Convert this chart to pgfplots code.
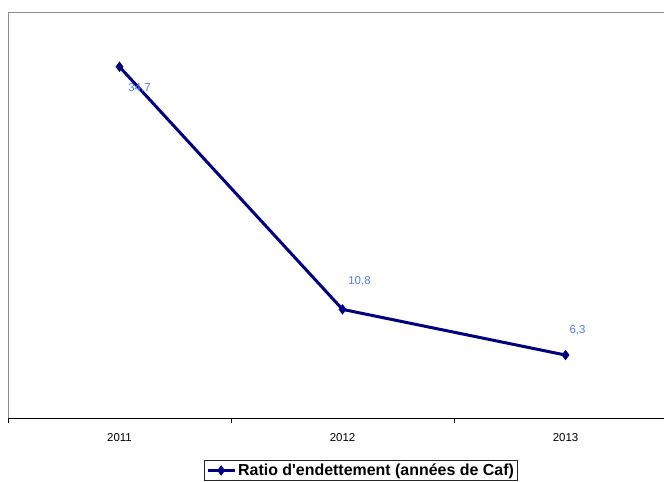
\documentclass[border=0pt]{standalone}
\usepackage{pgfplots}
\pgfplotsset{compat=1.18}
\usepackage{fontspec}
\setmainfont{Liberation Sans}
\newfontfamily\legfont{Liberation Sans}
\definecolor{navyline}{HTML}{000080}
\definecolor{lblblue}{HTML}{4D79FF}
\begin{document}
\begin{tikzpicture}[x=1bp,y=1bp]
\useasboundingbox (0,0) rectangle (664,482);
\begin{axis}[
  at={(8bp,63bp)}, anchor=south west,
  scale only axis, width=669bp, height=406bp,
  xmin=-0.5, xmax=2.5, ymin=0, ymax=40,
  xtick={0,1,2}, xticklabels={2011,2012,2013},
  major x tick style={draw=none},
  minor xtick={-0.5,0.5,1.5,2.5},
  minor tick length=4bp, tick align=outside, xtick pos=bottom,
  minor x tick style={black, line width=0.8bp},
  ytick=\empty,
  axis line style={gray!90, line width=1bp},
  ticklabel style={font=\fontsize{11.5}{13}\selectfont},
  x tick label style={yshift=-7bp},
  legend style={at={(0.5277,-0.1268)}, anchor=center, draw=black!85,
    line width=0.8bp, font=\legfont\bfseries\fontsize{16}{18}\selectfont,
    inner sep=1.5bp, row sep=0bp},
  legend image code/.code={\draw[mark repeat=2,mark phase=2] plot coordinates {(0bp,0bp)(13.5bp,0bp)(27bp,0bp)};},
  clip=false,
]
\addplot[navyline, line width=3bp, mark=diamond*, mark size=2.8bp, mark options={solid}]
  coordinates {(0,34.7) (1,10.8) (2,6.3)};
\addlegendentry{Ratio d'endettement (années de Caf)}
\draw[black, line width=1bp] (rel axis cs:0,0) -- (rel axis cs:1,0);
\node[text=lblblue, font=\fontsize{11.5}{13}\selectfont] at (axis cs:0,34.7) [xshift=20bp, yshift=-21bp] {34,7};
\node[text=lblblue, font=\fontsize{11.5}{13}\selectfont] at (axis cs:1,10.8) [xshift=17bp, yshift=28bp] {10,8};
\node[text=lblblue, font=\fontsize{11.5}{13}\selectfont] at (axis cs:2,6.3) [xshift=12bp, yshift=25bp] {6,3};
\end{axis}
\end{tikzpicture}
\end{document}
